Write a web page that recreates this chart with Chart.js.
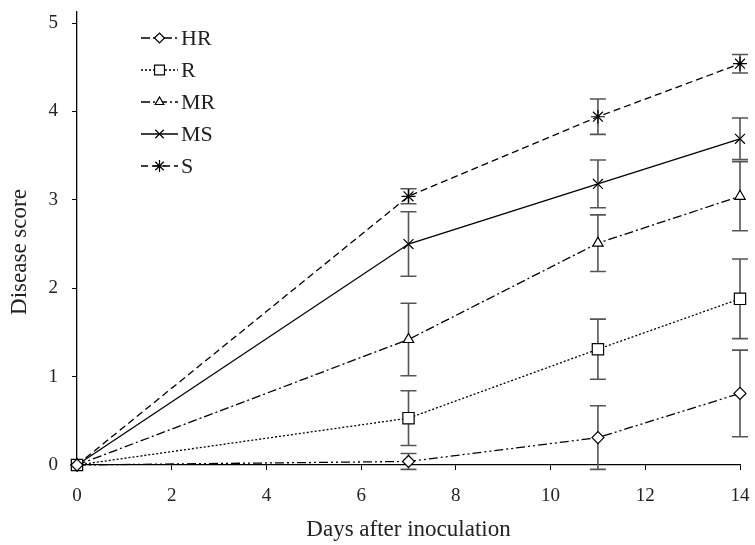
<!DOCTYPE html>
<html><head><meta charset="utf-8">
<script src="https://cdn.jsdelivr.net/npm/chart.js@4.4.1/dist/chart.umd.min.js"></script>
<style>html,body{margin:0;padding:0;background:#fff}#wrap{width:755px;height:545px}</style>
</head><body>
<div id="wrap"><canvas id="c" width="755" height="545"></canvas></div>
<script>
// ---- data ----
const days = [0, 7, 11, 14];
const seriesNames = ['HR', 'R', 'MR', 'MS', 'S'];
const hrValues = [0, 0.04, 0.31, 0.81];
const hrErrors = [0, 0.09, 0.36, 0.49];
const rValues = [0, 0.53, 1.31, 1.88];
const rErrors = [0, 0.31, 0.34, 0.45];
const mrValues = [0, 1.42, 2.51, 3.04];
const mrErrors = [0, 0.41, 0.32, 0.39];
const msValues = [0, 2.50, 3.18, 3.69];
const msErrors = [0, 0.365, 0.27, 0.235];
const sValues = [0, 3.04, 3.94, 4.54];
const sErrors = [0, 0.085, 0.20, 0.105];
const xTickValues = [0, 2, 4, 6, 8, 10, 12, 14];
const yTickValues = [0, 1, 2, 3, 4, 5];
const xTitle = 'Days after inoculation';
const yTitle = 'Disease score';

// ---- styles ----
const FONT = '"Liberation Serif", "DejaVu Serif", serif';
const styles = [
  {pointStyle: 'rectRot', radius: 6, dash: [9, 3, 2, 3, 2, 3]},
  {pointStyle: 'rect', radius: 8, dash: [2, 2]},
  {pointStyle: 'triangle', radius: 6, dash: [9, 3, 2, 3]},
  {pointStyle: 'crossRot', radius: 7, dash: []},
  {pointStyle: 'star', radius: 7, dash: [7, 4]}
];
const valuesList = [hrValues, rValues, mrValues, msValues, sValues];
const errorsList = [hrErrors, rErrors, mrErrors, msErrors, sErrors];

const datasets = seriesNames.map((name, i) => ({
  label: name,
  data: days.map((d, j) => ({x: d, y: valuesList[i][j]})),
  errors: errorsList[i],
  borderColor: '#000',
  backgroundColor: '#fff',
  borderWidth: 1.3,
  borderDash: styles[i].dash,
  pointStyle: styles[i].pointStyle,
  pointRadius: styles[i].radius,
  pointBorderColor: '#000',
  pointBackgroundColor: '#fff',
  pointBorderWidth: 1.2,
  tension: 0,
  clip: false
}));

const errorBars = {
  id: 'errorBars',
  beforeDatasetsDraw(chart) {
    const ctx = chart.ctx, xs = chart.scales.x, ys = chart.scales.y;
    ctx.save();
    ctx.strokeStyle = '#555';
    ctx.lineWidth = 1.6;
    ctx.setLineDash([]);
    chart.data.datasets.forEach(ds => {
      ds.data.forEach((p, j) => {
        const e = ds.errors[j];
        if (!e) return;
        const x = xs.getPixelForValue(p.x);
        const y1 = ys.getPixelForValue(p.y + e);
        const y2 = ys.getPixelForValue(p.y - e);
        ctx.beginPath();
        ctx.moveTo(x, y1); ctx.lineTo(x, y2);
        ctx.moveTo(x - 8, y1); ctx.lineTo(x + 8, y1);
        ctx.moveTo(x - 8, y2); ctx.lineTo(x + 8, y2);
        ctx.stroke();
      });
    });
    ctx.restore();
  }
};

const customLegendAndTitles = {
  id: 'customLegendAndTitles',
  afterDraw(chart) {
    const ctx = chart.ctx, area = chart.chartArea;
    ctx.save();
    seriesNames.forEach((name, i) => {
      const y = 38 + i * 32;
      ctx.strokeStyle = '#000';
      ctx.lineWidth = 1.3;
      ctx.setLineDash(styles[i].dash);
      ctx.beginPath(); ctx.moveTo(141, y); ctx.lineTo(178, y); ctx.stroke();
      ctx.setLineDash([]);
      ctx.fillStyle = '#fff';
      ctx.lineWidth = 1.2;
      if (Chart.helpers && Chart.helpers.drawPoint) {
        Chart.helpers.drawPoint(ctx, {pointStyle: styles[i].pointStyle, rotation: 0,
          radius: styles[i].radius - 1, borderWidth: 1.2}, 159.5, y);
      }
      ctx.fillStyle = '#222';
      ctx.font = '22px ' + FONT;
      ctx.textBaseline = 'middle';
      ctx.textAlign = 'left';
      ctx.fillText(name, 181, y + 1);
    });
    // axis titles
    ctx.fillStyle = '#222';
    ctx.font = '23px ' + FONT;
    ctx.textAlign = 'center';
    ctx.textBaseline = 'middle';
    ctx.fillText(xTitle, (area.left + area.right) / 2, 530);
    ctx.translate(20, 252);
    ctx.rotate(-Math.PI / 2);
    ctx.fillText(yTitle, 0, 0);
    ctx.restore();
  }
};

new Chart(document.getElementById('c'), {
  type: 'line',
  data: {datasets},
  plugins: [errorBars, customLegendAndTitles],
  options: {
    responsive: false,
    animation: false,
    events: [],
    layout: {padding: {top: 12, right: 15, left: 0, bottom: 0}},
    plugins: {legend: {display: false}, tooltip: {enabled: false}},
    scales: {
      x: {
        type: 'linear', min: 0, max: 14,
        afterBuildTicks: s => { s.ticks = xTickValues.map(v => ({value: v})); },
        afterFit: s => { s.height = 80; s.paddingLeft = 0; s.paddingRight = 0; },
        ticks: {color: '#222', font: {family: FONT, size: 19}, padding: 15, maxRotation: 0},
        grid: {drawOnChartArea: false, tickLength: 5, color: '#000', tickWidth: 1},
        border: {color: '#000', width: 1.3},
        title: {display: false}
      },
      y: {
        type: 'linear', min: 0, max: 5.125,
        afterBuildTicks: s => { s.ticks = yTickValues.map(v => ({value: v})); },
        afterFit: s => { s.width = 77; s.paddingTop = 0; s.paddingBottom = 0; },
        ticks: {color: '#222', font: {family: FONT, size: 19}, padding: 14},
        grid: {drawOnChartArea: false, tickLength: 5, color: '#000', tickWidth: 1},
        border: {color: '#000', width: 1.3},
        title: {display: false}
      }
    }
  }
});
</script>
</body></html>
